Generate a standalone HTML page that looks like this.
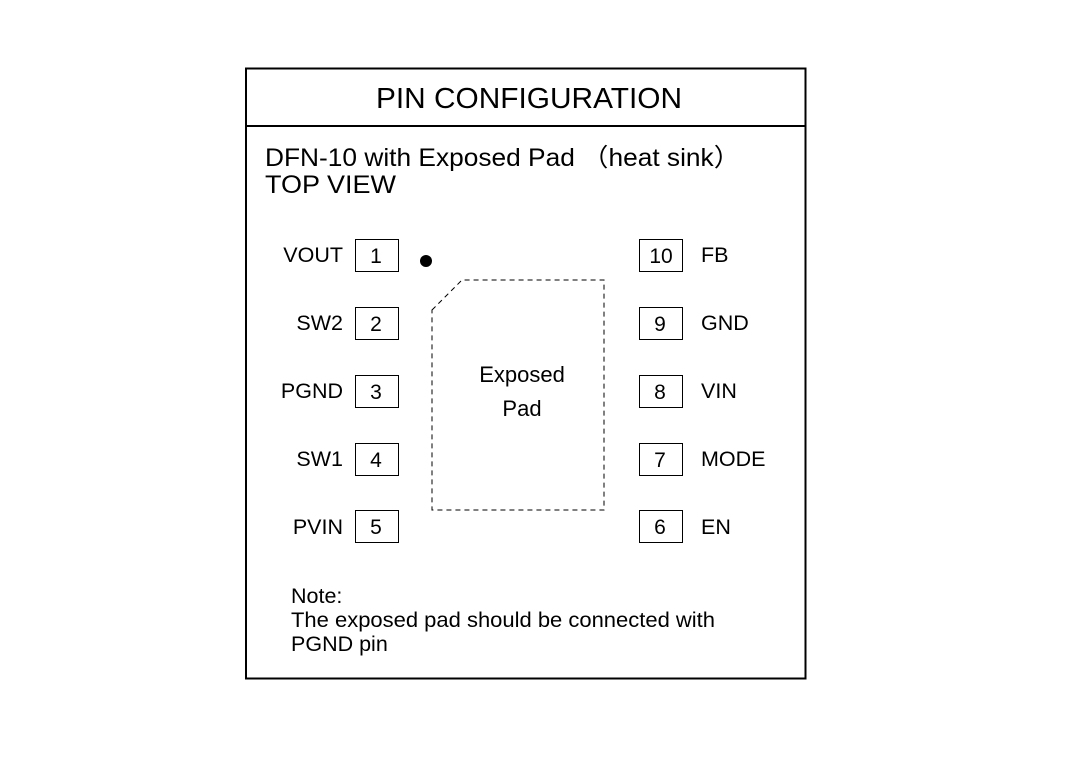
<!DOCTYPE html>
<html><head><style>body{margin:0;background:#fff}</style></head><body>
<svg width="1080" height="760" xmlns="http://www.w3.org/2000/svg" font-family="Liberation Sans, Arial, sans-serif" fill="#000">
<rect x="246" y="68.5" width="559.5" height="610" fill="none" stroke="#000" stroke-width="2"/>
<line x1="246" y1="126" x2="805" y2="126" stroke="#000" stroke-width="2"/>
<text x="376" y="108" font-size="29" textLength="306" lengthAdjust="spacingAndGlyphs">PIN CONFIGURATION</text>
<text x="265" y="166" font-size="25" textLength="475" lengthAdjust="spacingAndGlyphs">DFN-10 with Exposed Pad （heat sink）</text>
<text x="265" y="193" font-size="25" textLength="131" lengthAdjust="spacingAndGlyphs">TOP VIEW</text>
<circle cx="426" cy="261" r="6"/>
<path d="M432,310 L462,280 L604,280 L604,510 L432,510 Z" fill="none" stroke="#000" stroke-width="1" stroke-dasharray="5,4"/>
<text x="522" y="382" font-size="22" text-anchor="middle">Exposed</text>
<text x="522" y="416" font-size="22" text-anchor="middle">Pad</text>
<g fill="none" stroke="#000" stroke-width="1">
<rect x="355.5" y="239.5" width="43" height="32"/><rect x="355.5" y="307.5" width="43" height="32"/><rect x="355.5" y="375.5" width="43" height="32"/><rect x="355.5" y="443.5" width="43" height="32"/><rect x="355.5" y="510.5" width="43" height="32"/>
<rect x="639.5" y="239.5" width="43" height="32"/><rect x="639.5" y="307.5" width="43" height="32"/><rect x="639.5" y="375.5" width="43" height="32"/><rect x="639.5" y="443.5" width="43" height="32"/><rect x="639.5" y="510.5" width="43" height="32"/>
</g>
<g font-size="21" text-anchor="middle">
<text x="376" y="263">1</text><text x="376" y="331">2</text><text x="376" y="399">3</text><text x="376" y="467">4</text><text x="376" y="534">5</text>
<text x="661" y="263">10</text><text x="660" y="331">9</text><text x="660" y="399">8</text><text x="660" y="467">7</text><text x="660" y="534">6</text>
</g>
<g font-size="21.5" text-anchor="end">
<text x="343" y="262">VOUT</text><text x="343" y="330">SW2</text><text x="343" y="398">PGND</text><text x="343" y="466">SW1</text><text x="343" y="534">PVIN</text>
</g>
<g font-size="21.5">
<text x="701" y="262">FB</text><text x="701" y="330">GND</text><text x="701" y="398">VIN</text><text x="701" y="466">MODE</text><text x="701" y="534">EN</text>
</g>
<g font-size="21.5">
<text x="291" y="603">Note:</text>
<text x="291" y="627" textLength="424" lengthAdjust="spacingAndGlyphs">The exposed pad should be connected with</text>
<text x="291" y="651">PGND pin</text>
</g>
</svg>
</body></html>
